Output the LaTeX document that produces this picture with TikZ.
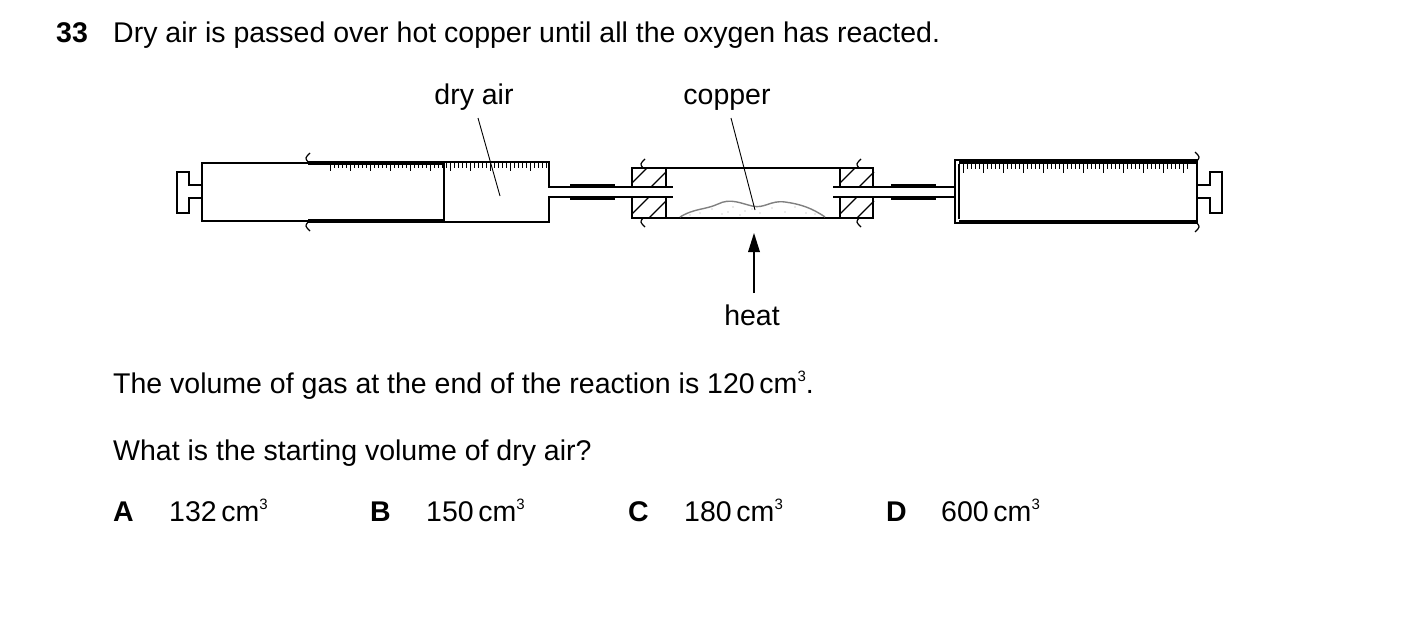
\documentclass[tikz,border=0pt]{standalone}
\usepackage{fontspec}
\setmainfont{Liberation Sans}
\newcommand{\cmcube}{\,cm\raisebox{0.75ex}{\fontsize{15}{15}\selectfont 3}}
\begin{document}
\begin{tikzpicture}[x=1pt,y=-1pt,
  txt/.style={anchor=base west,inner sep=0,font=\fontsize{28.5}{32}\selectfont},
  lab/.style={anchor=base,inner sep=0,font=\fontsize{28.5}{32}\selectfont},
  bld/.style={txt,font=\fontsize{28.5}{32}\selectfont\bfseries},
  ln/.style={line width=1.6pt},
  thin/.style={line width=1.2pt}]
\useasboundingbox (0,0) rectangle (1403,621);
% header
\node[bld] (q) at (56,42) {33};
\node[txt] (t1) at (113,42) {Dry air is passed over hot copper until all the oxygen has reacted.};
% ---------- left syringe
\draw[ln] (202,185) -- (189,185) -- (189,172) -- (177,172) -- (177,213) -- (189,213) -- (189,198) -- (202,198);
\draw[ln] (202,163) rectangle (444,221);
\draw[ln] (308,162) -- (549,162) -- (549,187) -- (572,187);
\draw[ln] (308,222) -- (549,222) -- (549,197) -- (572,197);
\draw[line width=3pt] (308,163.5) -- (444,163.5) (308,220.5) -- (444,220.5);
\draw[thin] (308,162) .. controls (305,158) .. (310,153);
\draw[thin] (308,222) .. controls (305,226) .. (310,231);
\foreach \i in {0,...,54}{
  \pgfmathsetmacro\xx{330+4*\i}
  \pgfmathsetmacro\ll{mod(\i,5)==0?171:168}
  \draw[line width=0.6pt] (\xx,162) -- (\xx,\ll);}
% left connector
\draw[line width=2.6pt] (570,185) -- (615,185) (570,199) -- (615,199);
\draw[ln] (572,187) -- (673,187) (572,197) -- (673,197);
% ---------- middle tube
\draw[ln] (643,168) -- (859,168) (643,218) -- (859,218);
\draw[thin] (643,168) .. controls (640,164) .. (645,159);
\draw[thin] (643,218) .. controls (640,222) .. (645,227);
\draw[thin] (859,168) .. controls (856,164) .. (861,159);
\draw[thin] (859,218) .. controls (856,222) .. (861,227);
\draw[ln] (632,168) rectangle (666,187);
\draw[ln] (632,197) rectangle (666,218);
\draw[ln] (840,168) rectangle (873,187);
\draw[ln] (840,197) rectangle (873,218);
\foreach \a in {632,840}{
  \draw[thin] (\a,183) -- (\a+15,168) (\a+19,187) -- (\a+34,172);
  \draw[thin] (\a,214) -- (\a+17,197) (\a+17,218) -- (\a+34,201);}
% copper
\draw[line width=1.4pt,gray] (680,217) .. controls (695,208) and (705,210) .. (718,204)
  .. controls (730,198) and (740,203) .. (752,206) .. controls (765,209) and (770,200) .. (785,202)
  .. controls (800,204) and (812,208) .. (825,217);
\foreach \p in {(700,213),(712,209),(722,214),(733,207),(745,211),(760,213),(772,208),(785,212),(795,207),(806,213),(728,212),(765,205),(690,215),(815,214),(740,215),(752,209)}
  \fill[gray!70] \p circle (0.7);
% right connector
\draw[ln] (833,187) -- (955,187) (833,197) -- (955,197);
\draw[line width=2.6pt] (891,185) -- (936,185) (891,199) -- (936,199);
% ---------- right syringe
\draw[ln] (955,160) rectangle (1197,223);
\draw[ln] (959,164) -- (959,219);
\draw[line width=3pt] (959,162) -- (1197,162) (959,221) -- (1197,221);
\draw[thin] (1197,161) .. controls (1200,157) .. (1195,152);
\draw[thin] (1197,223) .. controls (1200,227) .. (1195,232);
\draw[ln] (1197,185) -- (1210,185) -- (1210,172) -- (1222,172) -- (1222,213) -- (1210,213) -- (1210,198) -- (1197,198);
\foreach \i in {0,...,56}{
  \pgfmathsetmacro\xx{963+4*\i}
  \pgfmathsetmacro\ll{mod(\i,5)==0?173:169}
  \draw[line width=0.6pt] (\xx,163) -- (\xx,\ll);}
% labels
\node[lab] (da) at (474,104) {dry air};
\coordinate (da1) at (478,118); \coordinate (da2) at (500,196);
\draw[line width=0.9pt] (da1) -- (da2);
\node[lab] (cu) at (727,104) {copper};
\coordinate (cu1) at (731,118); \coordinate (cu2) at (755,210);
\draw[line width=0.9pt] (cu1) -- (cu2);
\node[lab] (ht) at (752,325) {heat};
\coordinate (h1) at (754,293); \coordinate (h2) at (754,233);
\draw[line width=1.6pt] (h1) -- (754,250);
\fill (h2) -- (748,252) -- (760,252) -- cycle;
% text
\node[txt] (t2) at (113,393) {The volume of gas at the end of the reaction is 120\cmcube.};
\node[txt] (t3) at (113,460) {What is the starting volume of dry air?};
\node[bld] (A) at (113,521) {A};
\node[txt] (a) at (169,521) {132\cmcube};
\node[bld] (B) at (370,521) {B};
\node[txt] (b) at (426,521) {150\cmcube};
\node[bld] (C) at (628,521) {C};
\node[txt] (c) at (684,521) {180\cmcube};
\node[bld] (D) at (886,521) {D};
\node[txt] (d) at (941,521) {600\cmcube};
\end{tikzpicture}
\end{document}
